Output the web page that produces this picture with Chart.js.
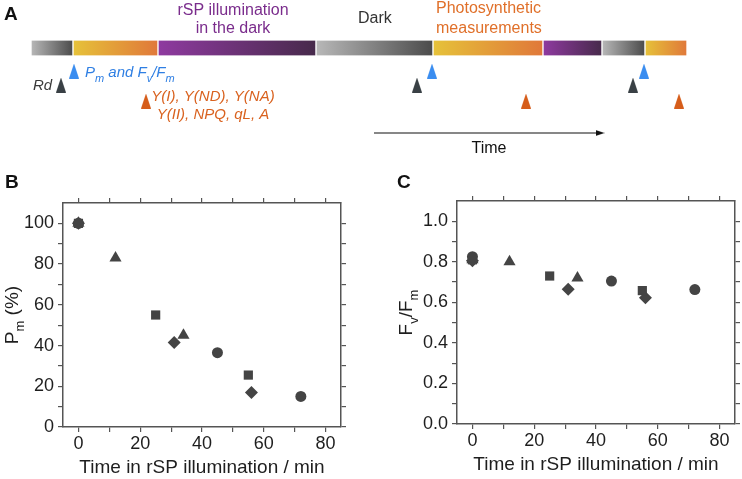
<!DOCTYPE html>
<html>
<head>
<meta charset="utf-8">
<script src="https://cdn.jsdelivr.net/npm/chart.js@4.4.1/dist/chart.umd.min.js"></script>
<style>
  html, body { margin: 0; padding: 0; background: #fff; }
  #fig { position: relative; width: 742px; height: 479px; overflow: hidden; }
  #fig canvas { position: absolute; }
</style>
</head>
<body>
<div id="fig">
  <canvas id="protocol" width="742" height="165" style="left:0;top:0"></canvas>
  <canvas id="pmChart" width="371" height="319" style="left:0;top:160px"></canvas>
  <canvas id="fvChart" width="371" height="319" style="left:371px;top:160px"></canvas>
</div>
<script>
// ─── DATA: measurement protocol (panel A, arbitrary time units) ─────
const segStart = [0, 42, 127, 285, 402, 512, 571, 614];
const segEnd   = [42, 127, 285, 402, 512, 571, 614, 656];
const segKind  = ['dark', 'meas', 'rsp', 'dark', 'meas', 'rsp', 'dark', 'meas'];
const pmMarks  = [43, 401, 613];   // Pm and Fv/Fm
const rdMarks  = [30, 386, 602];   // Rd
const yMarks   = [115, 495, 648];  // Y(I), Y(II), ...
const arrowTimes = [343, 569];

// ─── DATA: Pm and Fv/Fm vs time in rSP illumination ─────────────────
const circleT  = [0, 45, 72];
const circlePm = [100, 36.5, 15];
const circleFv = [0.825, 0.705, 0.663];
const triT     = [0, 12, 34];
const triPm    = [100, 83, 45];
const triFv    = [0.81, 0.80, 0.72];
const sqT      = [0, 25, 55];
const sqPm     = [100, 55, 25.5];
const sqFv     = [0.81, 0.73, 0.658];
const diaT     = [0, 31, 56];
const diaPm    = [100, 41.5, 17];
const diaFv    = [0.805, 0.665, 0.623];

// ─── TICKS ──────────────────────────────────────────────────────────
const xTicks   = [0, 10, 20, 30, 40, 50, 60, 70, 80];
const xMajor   = [0, 20, 40, 60, 80];
const pmTicks  = [0, 10, 20, 30, 40, 50, 60, 70, 80, 90, 100];
const pmMajor  = [0, 20, 40, 60, 80, 100];
const fvTicks  = [0, 0.1, 0.2, 0.3, 0.4, 0.5, 0.6, 0.7, 0.8, 0.9, 1.0];
const fvMajor  = [0, 0.2, 0.4, 0.6, 0.8, 1.0];

const FONT = "'Liberation Sans', Arial, Helvetica, sans-serif";
const INK = '#1e1e1e';
const FRAME = '#555';
const MARK = '#444';

// ─── HELPERS ────────────────────────────────────────────────────────
function drawRuns(ctx, runs, x, y, size, style, align) {
    const main = `${style} ${size}px ${FONT}`;
    const sub = `${style} ${Math.round(size * 0.7)}px ${FONT}`;
    let w = 0;
    runs.forEach(([t, s]) => { ctx.font = s ? sub : main; w += ctx.measureText(t).width; });
    let cx = align === 'center' ? x - w / 2 : x;
    ctx.textAlign = 'left';
    ctx.textBaseline = 'alphabetic';
    runs.forEach(([t, s]) => {
        ctx.font = s ? sub : main;
        ctx.fillText(t, cx, y + (s ? size * 0.3 : 0));
        cx += ctx.measureText(t).width;
    });
}

function tallTriangle(color) {
    const c = document.createElement('canvas');
    c.width = 10; c.height = 15;
    const g = c.getContext('2d');
    g.fillStyle = color;
    g.beginPath(); g.moveTo(5, 0); g.lineTo(10, 15); g.lineTo(0, 15); g.closePath(); g.fill();
    return c;
}

function arrowHead() {
    const c = document.createElement('canvas');
    c.width = 9; c.height = 6;
    const g = c.getContext('2d');
    g.fillStyle = '#111';
    g.beginPath(); g.moveTo(0, 0); g.lineTo(9, 3); g.lineTo(0, 6); g.closePath(); g.fill();
    return c;
}

const segColors = {
    dark: ['#b8b8b8', '#4b4b4b'],
    meas: ['#e6c23a', '#e0783a'],
    rsp:  ['#8f3aa0', '#472a4b']
};

function segFill(ctx) {
    const chart = ctx.chart;
    if (!chart.chartArea || ctx.dataIndex === undefined) return '#999';
    const i = ctx.dataIndex;
    const x0 = chart.scales.x.getPixelForValue(segStart[i]);
    const x1 = chart.scales.x.getPixelForValue(segEnd[i]);
    const c = segColors[segKind[i]];
    const g = chart.ctx.createLinearGradient(x0, 0, x1, 0);
    g.addColorStop(0, c[0]);
    g.addColorStop(1, c[1]);
    return g;
}

// ─── PANEL A: protocol timeline ─────────────────────────────────────
const BAR_ROW = 48, PM_ROW = 71, RD_ROW = 85, Y_ROW = 101, ARROW_ROW = 133;

const protocolLabels = {
    id: 'protocolLabels',
    afterDatasetsDraw(chart) {
        const ctx = chart.ctx, sx = chart.scales.x, sy = chart.scales.y;
        const px = v => sx.getPixelForValue(v), py = v => sy.getPixelForValue(v);
        ctx.save();
        ctx.fillStyle = '#111';
        drawRuns(ctx, [['A', 0]], px(-27), py(20), 19, 'bold', 'left');
        ctx.fillStyle = '#7a2c8c';
        drawRuns(ctx, [['rSP illumination', 0]], px(202), py(15), 16, 'normal', 'center');
        drawRuns(ctx, [['in the dark', 0]], px(202), py(33), 16, 'normal', 'center');
        ctx.fillStyle = '#333';
        drawRuns(ctx, [['Dark', 0]], px(327), py(23), 16, 'normal', 'left');
        ctx.fillStyle = '#e0702a';
        drawRuns(ctx, [['Photosynthetic', 0]], px(405), py(13), 16, 'normal', 'left');
        drawRuns(ctx, [['measurements', 0]], px(405), py(33), 16, 'normal', 'left');
        ctx.fillStyle = '#2f7fe3';
        drawRuns(ctx, [['P', 0], ['m', 1], [' and F', 0], ['v', 1], ['/F', 0], ['m', 1]], px(54), py(77), 15, 'italic', 'left');
        ctx.fillStyle = '#3a3a3a';
        drawRuns(ctx, [['Rd', 0]], px(2), py(90), 15, 'italic', 'left');
        ctx.fillStyle = '#d9621f';
        drawRuns(ctx, [['Y(I), Y(ND), Y(NA)', 0]], px(182), py(101), 15, 'italic', 'center');
        drawRuns(ctx, [['Y(II), NPQ, qL, A', 0]], px(182), py(119), 15, 'italic', 'center');
        ctx.fillStyle = '#111';
        drawRuns(ctx, [['Time', 0]], px(458), py(153), 16, 'normal', 'center');
        ctx.restore();
    }
};

new Chart(document.getElementById('protocol'), {
    type: 'scatter',
    data: {
        datasets: [
            {
                type: 'bar', indexAxis: 'y',
                data: segStart.map((s, i) => ({ x: [s, segEnd[i]], y: BAR_ROW })),
                backgroundColor: segFill,
                borderColor: '#fff',
                borderWidth: { left: 1, right: 1, top: 0, bottom: 0 },
                borderSkipped: false,
                barThickness: 15
            },
            { data: pmMarks.map(t => ({ x: t, y: PM_ROW })), pointStyle: tallTriangle('#3a8df0'), pointRadius: 7 },
            { data: rdMarks.map(t => ({ x: t, y: RD_ROW })), pointStyle: tallTriangle('#394045'), pointRadius: 7 },
            { data: yMarks.map(t => ({ x: t, y: Y_ROW })), pointStyle: tallTriangle('#d65d1a'), pointRadius: 7 },
            {
                type: 'line',
                data: arrowTimes.map(t => ({ x: t, y: ARROW_ROW })),
                borderColor: '#111', borderWidth: 1.2,
                pointRadius: [0, 5], pointStyle: arrowHead()
            }
        ]
    },
    options: {
        responsive: false, animation: false, events: [],
        layout: { padding: 0, autoPadding: false },
        plugins: { legend: { display: false }, tooltip: { enabled: false } },
        scales: {
            x: { type: 'linear', min: -31, max: 711, display: false },
            y: { type: 'linear', min: 0, max: 165, reverse: true, display: false, offset: false }
        }
    },
    plugins: [protocolLabels]
});

// ─── PANELS B & C ───────────────────────────────────────────────────
function axisOpts(pos, min, max, tickVals, majors, fmt, size, showLabels, pad) {
    const horiz = pos === 'bottom' || pos === 'top';
    return {
        type: 'linear', position: pos, min, max,
        afterBuildTicks: s => { s.ticks = tickVals.map(v => ({ value: v })); },
        afterFit: s => { if (horiz) s.height = size; else s.width = size; },
        ticks: {
            display: showLabels,
            autoSkip: false, maxRotation: 0, padding: pad,
            color: INK, font: { size: 18, family: FONT },
            callback: v => majors.includes(v) ? fmt(v) : ''
        },
        grid: { drawOnChartArea: false, tickLength: 5, color: FRAME, lineWidth: 1.2 },
        border: { display: true, color: FRAME, width: 1.5 }
    };
}

function buildPanel(id, letter, yRuns, yMax, yTicks, yMajor, yFmt, yVals, layout) {
    const series = [
        ['circle', circleT, yVals[0], 5.5],
        ['triangle', triT, yVals[1], 7],
        ['rect', sqT, yVals[2], 6.5],
        ['rectRot', diaT, yVals[3], 6.5]
    ];
    const titles = {
        id: 'titles',
        afterDraw(chart) {
            const ctx = chart.ctx, a = chart.chartArea;
            ctx.save();
            ctx.fillStyle = '#111';
            drawRuns(ctx, [[letter, 0]], layout.letterX, 28, 19, 'bold', 'left');
            ctx.fillStyle = INK;
            ctx.translate(layout.yTitleX, (a.top + a.bottom) / 2);
            ctx.rotate(-Math.PI / 2);
            drawRuns(ctx, yRuns, 0, 0, 19, 'normal', 'center');
            ctx.restore();
        }
    };
    return new Chart(document.getElementById(id), {
        type: 'scatter',
        data: {
            datasets: series.map(([style, xs, ys, r]) => ({
                data: xs.map((t, i) => ({ x: t, y: ys[i] })),
                pointStyle: style, pointRadius: r,
                backgroundColor: MARK, borderColor: MARK, borderWidth: 0
            }))
        },
        options: {
            responsive: false, animation: false, events: [],
            layout: { padding: layout.padding, autoPadding: false },
            plugins: { legend: { display: false }, tooltip: { enabled: false } },
            scales: {
                x: Object.assign(axisOpts('bottom', -5, 85, xTicks, xMajor, v => String(v), 52, true, 1), {
                    title: { display: true, text: 'Time in rSP illumination / min', color: INK,
                             font: { size: 19, family: FONT }, padding: { top: 0, bottom: 0 } }
                }),
                x2: axisOpts('top', -5, 85, xTicks, xMajor, v => String(v), 5, false, 0),
                y: axisOpts('left', 0, yMax, yTicks, yMajor, yFmt, layout.yWidth, true, 4),
                y2: axisOpts('right', 0, yMax, yTicks, yMajor, yFmt, 5, false, 0)
            }
        },
        plugins: [titles]
    });
}

buildPanel('pmChart', 'B', [['P', 0], ['m', 1], [' (%)', 0]], 110, pmTicks, pmMajor, v => String(v),
    [circlePm, triPm, sqPm, diaPm],
    { padding: { left: 0, top: 38, right: 25, bottom: 0 }, yWidth: 63, letterX: 5, yTitleX: 18 });

buildPanel('fvChart', 'C', [['F', 0], ['v', 1], ['/F', 0], ['m', 1]], 1.1, fvTicks, fvMajor, v => v.toFixed(1),
    [circleFv, triFv, sqFv, diaFv],
    { padding: { left: 0, top: 36, right: 2, bottom: 3 }, yWidth: 86, letterX: 26, yTitleX: 41 });
</script>
</body>
</html>
